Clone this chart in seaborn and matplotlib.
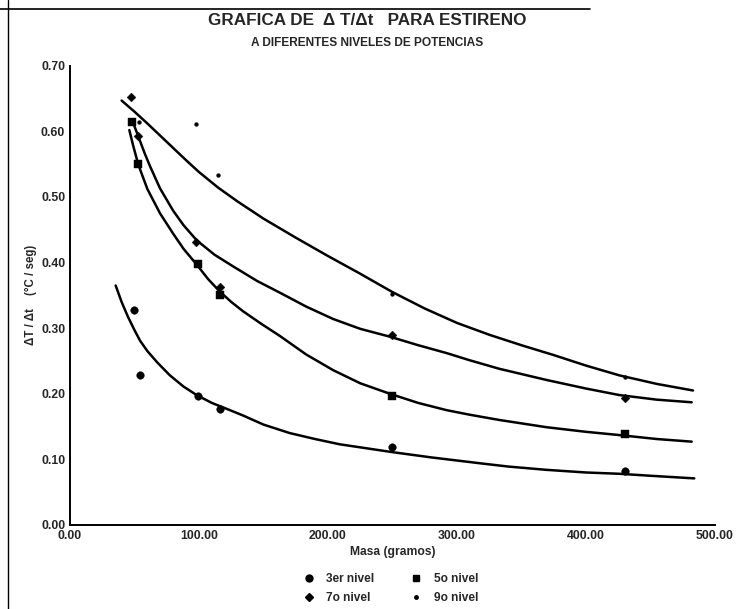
import numpy as np
import pandas as pd
import matplotlib
matplotlib.use("Agg")
import matplotlib.pyplot as plt
from matplotlib.lines import Line2D
import seaborn as sns

# ---- measured points ----
series_names = ["3er nivel", "5o nivel", "7o nivel", "9o nivel"]

x_3er = [49.5, 54, 99.5, 116.5, 250, 430]
y_3er = [0.328, 0.228, 0.197, 0.177, 0.119, 0.082]

x_5o = [48, 53, 99, 116, 250, 430]
y_5o = [0.615, 0.550, 0.398, 0.351, 0.197, 0.138]

x_7o = [47.5, 53, 98, 116, 250, 430]
y_7o = [0.652, 0.593, 0.431, 0.363, 0.290, 0.194]

x_9o = [53.5, 98, 115, 250, 430]
y_9o = [0.615, 0.611, 0.534, 0.352, 0.225]

# ---- trend curves ----
cx_3er = [35.4, 40, 45, 50, 54.3, 60, 68, 77.5, 88, 98.2, 110, 124, 134, 150, 170.5, 190, 209,
          250, 280, 318, 340, 369.5, 400, 426, 450, 484]
cy_3er = [0.365, 0.340, 0.317, 0.297, 0.281, 0.265, 0.247, 0.228, 0.211, 0.198, 0.186, 0.175, 0.167,
          0.153, 0.140, 0.131, 0.123, 0.111, 0.103, 0.094, 0.089, 0.084, 0.080, 0.078, 0.075, 0.071]

cx_5o = [46, 49, 53, 60, 69.8, 80, 88, 98.2, 107, 116, 125, 134, 148, 162.8, 183, 204, 225,
         248, 270, 292, 310, 333, 369.5, 400, 426, 455, 482]
cy_5o = [0.602, 0.578, 0.549, 0.512, 0.475, 0.444, 0.421, 0.397, 0.375, 0.356, 0.340, 0.326,
         0.307, 0.288, 0.260, 0.236, 0.216, 0.200, 0.186, 0.175, 0.168, 0.160, 0.149, 0.142,
         0.137, 0.131, 0.127]

cx_7o = [48, 53, 58, 62, 69.8, 80, 88, 98.2, 112, 126.6, 145, 162.8, 183, 204, 225, 248,
         270, 292, 310, 333, 369.5, 400, 426, 455, 482]
cy_7o = [0.618, 0.592, 0.566, 0.547, 0.513, 0.479, 0.457, 0.434, 0.412, 0.394, 0.372, 0.354,
         0.333, 0.314, 0.299, 0.287, 0.274, 0.262, 0.251, 0.238, 0.221, 0.208, 0.198, 0.191, 0.187]

cx_9o = [40, 50, 60, 75, 90, 100, 115, 130, 150, 175, 200, 225, 250, 275, 300, 325, 350,
         375, 400, 426, 455, 483]
cy_9o = [0.647, 0.630, 0.612, 0.584, 0.556, 0.538, 0.514, 0.493, 0.467, 0.438, 0.410, 0.383,
         0.355, 0.330, 0.308, 0.290, 0.274, 0.259, 0.243, 0.228, 0.215, 0.205]

x_ticks = [0, 100, 200, 300, 400, 500]
y_ticks = [0.0, 0.1, 0.2, 0.3, 0.4, 0.5, 0.6, 0.7]

pts = pd.concat([
    pd.DataFrame({"x": x_3er, "y": y_3er, "serie": series_names[0]}),
    pd.DataFrame({"x": x_5o, "y": y_5o, "serie": series_names[1]}),
    pd.DataFrame({"x": x_7o, "y": y_7o, "serie": series_names[2]}),
    pd.DataFrame({"x": x_9o, "y": y_9o, "serie": series_names[3]}),
], ignore_index=True)

curves = pd.concat([
    pd.DataFrame({"x": cx_3er, "y": cy_3er, "serie": series_names[0]}),
    pd.DataFrame({"x": cx_5o, "y": cy_5o, "serie": series_names[1]}),
    pd.DataFrame({"x": cx_7o, "y": cy_7o, "serie": series_names[2]}),
    pd.DataFrame({"x": cx_9o, "y": cy_9o, "serie": series_names[3]}),
], ignore_index=True)

sns.set_style("white")
plt.rcParams["font.family"] = ["Liberation Sans", "DejaVu Sans"]
plt.rcParams["font.weight"] = "bold"

fig = plt.figure(figsize=(7.37, 6.09), dpi=100)
ax = fig.add_axes([0.095, 0.138, 0.875, 0.754])

palette = {n: "black" for n in series_names}
sns.lineplot(data=curves, x="x", y="y", hue="serie", palette=palette,
             units="serie", estimator=None, sort=False, lw=1.8, ax=ax, legend=False)

markers = {"3er nivel": "o", "5o nivel": "s", "7o nivel": "D", "9o nivel": "."}
sizes = {"3er nivel": 30, "5o nivel": 26, "7o nivel": 20, "9o nivel": 30}
for n in series_names:
    sub = pts[pts["serie"] == n]
    sns.scatterplot(data=sub, x="x", y="y", color="black", marker=markers[n],
                    s=sizes[n], edgecolor="black", linewidth=0.3, ax=ax, legend=False, zorder=3)

ax.set_xlim(0, 500)
ax.set_ylim(0, 0.70)
ax.set_xticks(x_ticks)
ax.set_yticks(y_ticks)
ax.set_xticklabels([f"{v:.2f}" for v in x_ticks], fontsize=8.8, fontweight="bold")
ax.set_yticklabels([f"{v:.2f}" for v in y_ticks], fontsize=8.8, fontweight="bold")
ax.tick_params(axis="both", direction="inout", length=5, width=1, pad=1)
for side in ["top", "right"]:
    ax.spines[side].set_visible(False)
for side in ["left", "bottom"]:
    ax.spines[side].set_linewidth(1.4)
    ax.spines[side].set_color("black")
ax.set_xlabel("Masa (gramos)", fontsize=8.7, fontweight="bold", labelpad=3)
ax.set_ylabel("ΔT / Δt    (°C / seg)", fontsize=8.3, fontweight="bold", labelpad=3)

fig.text(0.498, 0.967, "GRAFICA DE  Δ T/Δt   PARA ESTIRENO", ha="center", va="center",
         fontsize=12.3, fontweight="bold")
fig.text(0.498, 0.929, "A DIFERENTES NIVELES DE POTENCIAS", ha="center", va="center",
         fontsize=8.6, fontweight="bold")

handles = [Line2D([], [], ls="none", marker=markers[n], color="black",
                  markersize={"3er nivel": 5, "5o nivel": 4.5, "7o nivel": 4, "9o nivel": 5}[n])
           for n in ["3er nivel", "7o nivel", "5o nivel", "9o nivel"]]
labels = ["3er nivel", "7o nivel", "5o nivel", "9o nivel"]
fig.legend(handles, labels, ncol=2, loc="center", bbox_to_anchor=(0.53, 0.034),
           frameon=False, fontsize=8.6, handletextpad=1.0, columnspacing=3.0,
           labelspacing=0.6, handlelength=1.0)

# page border of the scan
fig.add_artist(Line2D([0.011, 0.011], [0.0, 1.0], color="black", lw=1.0))
fig.add_artist(Line2D([0.0, 0.80], [0.985, 0.985], color="black", lw=1.2))

fig.savefig("out.png", dpi=100, facecolor="white")
